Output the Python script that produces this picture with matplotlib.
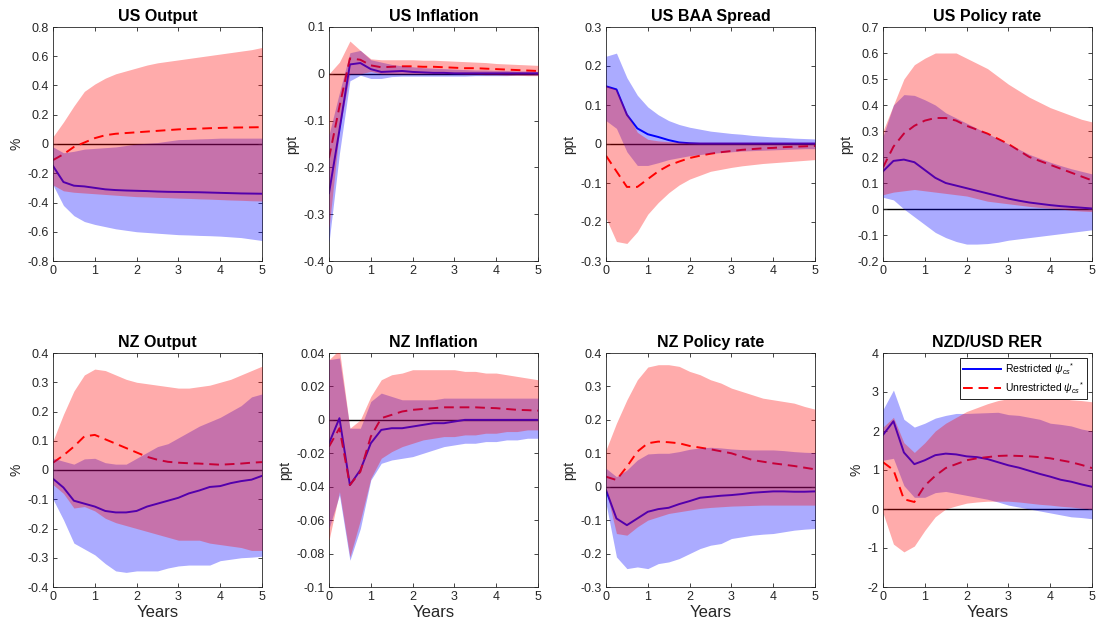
import numpy as np
import matplotlib
matplotlib.use("Agg")
import matplotlib.pyplot as plt
from matplotlib.ticker import FuncFormatter, MultipleLocator

plt.rcParams['font.family'] = ['Liberation Sans', 'DejaVu Sans']
plt.rcParams['axes.unicode_minus'] = False
plt.rcParams['mathtext.fontset'] = 'custom'
plt.rcParams['mathtext.it'] = 'Liberation Sans:italic'
plt.rcParams['mathtext.rm'] = 'Liberation Sans'

# Quarterly horizon, in years
horizon = np.linspace(0, 5, 21)

# ---- US Output ----
us_out_r = [-0.15, -0.26, -0.285, -0.29, -0.30, -0.31, -0.315, -0.318, -0.32, -0.322, -0.325,
            -0.327, -0.328, -0.329, -0.33, -0.332, -0.334, -0.336, -0.338, -0.339, -0.34]
us_out_r_hi = [-0.02, -0.06, -0.05, -0.035, -0.03, -0.025, -0.02, -0.01, 0.0, 0.005, 0.01,
               0.02, 0.03, 0.032, 0.035, 0.037, 0.04, 0.04, 0.04, 0.04, 0.04]
us_out_r_lo = [-0.28, -0.42, -0.49, -0.53, -0.55, -0.565, -0.58, -0.59, -0.60, -0.605, -0.61,
               -0.615, -0.62, -0.622, -0.625, -0.627, -0.63, -0.635, -0.64, -0.65, -0.66]
us_out_u = [-0.11, -0.07, -0.02, 0.01, 0.04, 0.06, 0.07, 0.075, 0.08, 0.085, 0.09,
            0.095, 0.10, 0.103, 0.105, 0.108, 0.11, 0.112, 0.113, 0.114, 0.115]
us_out_u_hi = [0.05, 0.15, 0.26, 0.36, 0.41, 0.45, 0.48, 0.50, 0.52, 0.54, 0.555,
               0.565, 0.575, 0.585, 0.595, 0.605, 0.615, 0.625, 0.635, 0.645, 0.66]
us_out_u_lo = [-0.28, -0.32, -0.33, -0.335, -0.34, -0.345, -0.35, -0.355, -0.36, -0.362, -0.365,
               -0.367, -0.37, -0.372, -0.375, -0.377, -0.38, -0.383, -0.385, -0.388, -0.39]

# ---- US Inflation ----
us_inf_r = [-0.255, -0.12, 0.02, 0.023, 0.01, 0.004, 0.005, 0.006, 0.004, 0.003, 0.002,
            0.002, 0.001, 0.001, 0.001, 0.001, 0.001, 0.001, 0.001, 0.001, 0.001]
us_inf_r_hi = [-0.13, -0.04, 0.045, 0.05, 0.03, 0.025, 0.02, 0.017, 0.015, 0.013, 0.012,
               0.011, 0.01, 0.009, 0.008, 0.008, 0.007, 0.007, 0.006, 0.006, 0.005]
us_inf_r_lo = [-0.36, -0.17, -0.015, -0.003, -0.01, -0.01, -0.006, -0.005, -0.005, -0.005, -0.005,
               -0.005, -0.005, -0.005, -0.004, -0.004, -0.004, -0.004, -0.003, -0.003, -0.003]
us_inf_u = [-0.18, -0.07, 0.033, 0.03, 0.018, 0.014, 0.015, 0.016, 0.016, 0.015, 0.015,
            0.014, 0.013, 0.012, 0.012, 0.011, 0.01, 0.009, 0.008, 0.007, 0.006]
us_inf_u_hi = [0.0, 0.025, 0.07, 0.05, 0.032, 0.03, 0.03, 0.03, 0.03, 0.029, 0.029,
               0.028, 0.027, 0.026, 0.025, 0.024, 0.022, 0.021, 0.02, 0.019, 0.018]
us_inf_u_lo = [-0.33, -0.12, 0.0, 0.0, 0.005, 0.0, 0.0, 0.0, 0.0, 0.0, 0.0,
               0.0, 0.0, -0.001, -0.001, -0.002, -0.002, -0.003, -0.003, -0.004, -0.004]

# ---- US BAA Spread ----
us_baa_r = [0.148, 0.14, 0.075, 0.04, 0.025, 0.018, 0.01, 0.004, 0.002, 0.001, 0.001,
            0.001, 0.001, 0.001, 0.001, 0.001, 0.001, 0.001, 0.001, 0.001, 0.001]
us_baa_r_hi = [0.225, 0.233, 0.17, 0.125, 0.095, 0.075, 0.06, 0.05, 0.043, 0.038, 0.033,
               0.03, 0.027, 0.025, 0.022, 0.02, 0.018, 0.017, 0.015, 0.014, 0.013]
us_baa_r_lo = [0.06, 0.04, -0.02, -0.055, -0.055, -0.048, -0.04, -0.035, -0.03, -0.027, -0.024,
               -0.022, -0.02, -0.018, -0.017, -0.016, -0.015, -0.014, -0.013, -0.012, -0.012]
us_baa_u = [-0.03, -0.07, -0.11, -0.11, -0.09, -0.07, -0.055, -0.045, -0.036, -0.03, -0.025,
            -0.021, -0.018, -0.015, -0.013, -0.011, -0.01, -0.008, -0.007, -0.006, -0.005]
us_baa_u_hi = [0.15, 0.14, 0.08, 0.03, 0.012, 0.008, 0.006, 0.005, 0.005, 0.005, 0.005,
               0.005, 0.005, 0.005, 0.005, 0.005, 0.005, 0.005, 0.005, 0.005, 0.005]
us_baa_u_lo = [-0.19, -0.25, -0.255, -0.225, -0.18, -0.15, -0.125, -0.105, -0.09, -0.08, -0.07,
               -0.065, -0.06, -0.056, -0.053, -0.05, -0.048, -0.046, -0.044, -0.042, -0.04]

# ---- US Policy rate ----
us_pol_r = [0.145, 0.185, 0.19, 0.18, 0.15, 0.12, 0.10, 0.09, 0.08, 0.07, 0.06,
            0.05, 0.04, 0.032, 0.025, 0.02, 0.015, 0.011, 0.008, 0.005, 0.002]
us_pol_r_hi = [0.28, 0.40, 0.44, 0.437, 0.42, 0.40, 0.37, 0.35, 0.33, 0.31, 0.29,
               0.27, 0.25, 0.23, 0.21, 0.195, 0.18, 0.167, 0.155, 0.145, 0.135]
us_pol_r_lo = [0.045, 0.035, 0.0, -0.03, -0.06, -0.09, -0.11, -0.125, -0.135, -0.135, -0.133,
               -0.128, -0.12, -0.115, -0.11, -0.105, -0.1, -0.095, -0.09, -0.085, -0.08]
us_pol_u = [0.16, 0.24, 0.29, 0.32, 0.34, 0.35, 0.35, 0.34, 0.32, 0.305, 0.29,
            0.27, 0.25, 0.225, 0.2, 0.185, 0.17, 0.155, 0.14, 0.125, 0.11]
us_pol_u_hi = [0.30, 0.40, 0.50, 0.555, 0.58, 0.60, 0.60, 0.60, 0.58, 0.56, 0.54,
               0.51, 0.48, 0.455, 0.43, 0.41, 0.39, 0.375, 0.36, 0.345, 0.335]
us_pol_u_lo = [0.055, 0.065, 0.07, 0.075, 0.07, 0.065, 0.06, 0.055, 0.05, 0.04, 0.03,
               0.025, 0.02, 0.015, 0.01, 0.006, 0.003, 0.0, -0.005, -0.008, -0.01]

# ---- NZ Output ----
nz_out_r = [-0.03, -0.06, -0.105, -0.115, -0.125, -0.14, -0.145, -0.145, -0.14, -0.125, -0.115,
            -0.105, -0.095, -0.08, -0.07, -0.058, -0.055, -0.045, -0.038, -0.033, -0.02]
nz_out_r_hi = [0.04, 0.03, 0.02, 0.038, 0.04, 0.025, 0.02, 0.02, 0.04, 0.06, 0.08,
               0.09, 0.11, 0.13, 0.15, 0.165, 0.18, 0.2, 0.22, 0.25, 0.26]
nz_out_r_lo = [-0.1, -0.17, -0.25, -0.27, -0.29, -0.32, -0.345, -0.35, -0.345, -0.345, -0.345,
               -0.335, -0.328, -0.325, -0.325, -0.325, -0.31, -0.305, -0.3, -0.298, -0.295]
nz_out_u = [0.025, 0.05, 0.08, 0.115, 0.12, 0.105, 0.09, 0.075, 0.06, 0.045, 0.035,
            0.028, 0.025, 0.023, 0.022, 0.02, 0.018, 0.02, 0.022, 0.025, 0.027]
nz_out_u_hi = [0.1, 0.19, 0.27, 0.325, 0.345, 0.34, 0.325, 0.31, 0.3, 0.295, 0.29,
               0.285, 0.28, 0.28, 0.285, 0.29, 0.3, 0.31, 0.325, 0.34, 0.355]
nz_out_u_lo = [-0.05, -0.08, -0.13, -0.125, -0.14, -0.165, -0.18, -0.19, -0.2, -0.21, -0.22,
               -0.23, -0.24, -0.24, -0.24, -0.25, -0.255, -0.26, -0.265, -0.275, -0.275]

# ---- NZ Inflation ----
nz_inf_r = [-0.014, 0.001, -0.039, -0.03, -0.014, -0.006, -0.005, -0.005, -0.004, -0.003, -0.002,
            -0.002, -0.001, 0.0, 0.0, 0.0, 0.0, 0.0, 0.0, 0.0, 0.0]
nz_inf_r_hi = [0.036, 0.037, -0.005, -0.005, 0.011, 0.016, 0.014, 0.012, 0.012, 0.012, 0.012,
               0.013, 0.013, 0.013, 0.013, 0.013, 0.013, 0.013, 0.013, 0.013, 0.013]
nz_inf_r_lo = [-0.065, -0.045, -0.084, -0.065, -0.036, -0.026, -0.024, -0.023, -0.022, -0.02, -0.018,
               -0.016, -0.015, -0.014, -0.014, -0.013, -0.013, -0.012, -0.012, -0.011, -0.011]
nz_inf_u = [-0.016, -0.005, -0.039, -0.031, -0.01, 0.001, 0.003, 0.005, 0.006, 0.0065, 0.007,
            0.0075, 0.0075, 0.0075, 0.0075, 0.0072, 0.007, 0.0065, 0.006, 0.0058, 0.0055]
nz_inf_u_hi = [0.036, 0.042, -0.005, 0.0, 0.014, 0.024, 0.027, 0.028, 0.03, 0.03, 0.03,
               0.03, 0.03, 0.029, 0.029, 0.028, 0.028, 0.027, 0.026, 0.025, 0.024]
nz_inf_u_lo = [-0.072, -0.043, -0.082, -0.06, -0.035, -0.023, -0.019, -0.016, -0.014, -0.012, -0.011,
               -0.01, -0.01, -0.009, -0.009, -0.008, -0.008, -0.007, -0.007, -0.006, -0.006]

# ---- NZ Policy rate ----
nz_pol_r = [-0.01, -0.095, -0.115, -0.095, -0.075, -0.067, -0.063, -0.052, -0.043, -0.033, -0.03,
            -0.027, -0.025, -0.022, -0.018, -0.016, -0.014, -0.014, -0.015, -0.015, -0.014]
nz_pol_r_hi = [0.055, 0.03, 0.05, 0.08, 0.098, 0.1, 0.1, 0.105, 0.112, 0.116, 0.118,
               0.116, 0.113, 0.111, 0.11, 0.11, 0.11, 0.108, 0.105, 0.103, 0.102]
nz_pol_r_lo = [-0.05, -0.21, -0.245, -0.24, -0.245, -0.23, -0.225, -0.215, -0.2, -0.185, -0.175,
               -0.17, -0.155, -0.15, -0.145, -0.142, -0.14, -0.135, -0.13, -0.127, -0.125]
nz_pol_u = [0.03, 0.02, 0.06, 0.105, 0.13, 0.135, 0.133, 0.13, 0.122, 0.117, 0.112,
            0.106, 0.1, 0.09, 0.08, 0.075, 0.07, 0.066, 0.062, 0.057, 0.052]
nz_pol_u_hi = [0.11, 0.19, 0.26, 0.32, 0.358, 0.365, 0.365, 0.36, 0.345, 0.335, 0.32,
               0.31, 0.295, 0.285, 0.275, 0.265, 0.26, 0.255, 0.25, 0.24, 0.232]
nz_pol_u_lo = [-0.01, -0.14, -0.145, -0.12, -0.1, -0.09, -0.08, -0.075, -0.07, -0.065, -0.062,
               -0.06, -0.058, -0.057, -0.056, -0.055, -0.055, -0.055, -0.055, -0.055, -0.055]

# ---- NZD/USD RER ----
rer_r = [1.9, 2.25, 1.45, 1.15, 1.25, 1.38, 1.42, 1.4, 1.35, 1.33, 1.28,
         1.2, 1.12, 1.06, 0.98, 0.9, 0.83, 0.75, 0.7, 0.63, 0.57]
rer_r_hi = [2.55, 3.05, 2.3, 2.1, 2.2, 2.33, 2.4, 2.45, 2.45, 2.46, 2.47,
            2.48, 2.42, 2.4, 2.35, 2.3, 2.2, 2.17, 2.13, 2.05, 2.0]
rer_r_lo = [1.25, 1.3, 0.6, 0.3, 0.3, 0.42, 0.45, 0.4, 0.35, 0.3, 0.25,
            0.18, 0.1, 0.05, 0.0, -0.05, -0.1, -0.15, -0.2, -0.22, -0.25]
rer_u = [1.2, 1.0, 0.25, 0.18, 0.6, 0.85, 1.05, 1.15, 1.25, 1.3, 1.33,
         1.36, 1.37, 1.36, 1.35, 1.33, 1.3, 1.25, 1.2, 1.13, 1.05]
rer_u_hi = [2.1, 2.35, 1.7, 1.45, 1.7, 2.0, 2.2, 2.35, 2.5, 2.6, 2.7,
            2.78, 2.83, 2.85, 2.85, 2.86, 2.87, 2.84, 2.8, 2.78, 2.75]
rer_u_lo = [-0.1, -0.9, -1.1, -0.95, -0.55, -0.2, 0.0, 0.08, 0.15, 0.18, 0.2,
            0.2, 0.2, 0.18, 0.15, 0.12, 0.1, 0.07, 0.05, 0.02, 0.0]

titles = ['US Output', 'US Inflation', 'US BAA Spread', 'US Policy rate',
          'NZ Output', 'NZ Inflation', 'NZ Policy rate', 'NZD/USD RER']
units = ['%', 'ppt', 'ppt', 'ppt', '%', 'ppt', 'ppt', '%']
y_limits = [(-0.8, 0.8), (-0.4, 0.1), (-0.3, 0.3), (-0.2, 0.7),
            (-0.4, 0.4), (-0.1, 0.04), (-0.3, 0.4), (-2, 4)]
y_steps = [0.2, 0.1, 0.1, 0.1, 0.1, 0.02, 0.1, 1]

panels = [
    (us_out_r, us_out_r_lo, us_out_r_hi, us_out_u, us_out_u_lo, us_out_u_hi),
    (us_inf_r, us_inf_r_lo, us_inf_r_hi, us_inf_u, us_inf_u_lo, us_inf_u_hi),
    (us_baa_r, us_baa_r_lo, us_baa_r_hi, us_baa_u, us_baa_u_lo, us_baa_u_hi),
    (us_pol_r, us_pol_r_lo, us_pol_r_hi, us_pol_u, us_pol_u_lo, us_pol_u_hi),
    (nz_out_r, nz_out_r_lo, nz_out_r_hi, nz_out_u, nz_out_u_lo, nz_out_u_hi),
    (nz_inf_r, nz_inf_r_lo, nz_inf_r_hi, nz_inf_u, nz_inf_u_lo, nz_inf_u_hi),
    (nz_pol_r, nz_pol_r_lo, nz_pol_r_hi, nz_pol_u, nz_pol_u_lo, nz_pol_u_hi),
    (rer_r, rer_r_lo, rer_r_hi, rer_u, rer_u_lo, rer_u_hi),
]

W, H = 1104, 631
fig = plt.figure(figsize=(W / 100, H / 100), dpi=100)

lefts = [53, 329, 606, 883]
tops = [27, 353]
ax_w, ax_h = 209, 234
tick_color = '#262626'

fmt = FuncFormatter(lambda v, _: f'{v:g}' if abs(v) > 1e-12 else '0')

for i, (title, unit, ylim, step, data) in enumerate(zip(titles, units, y_limits, y_steps, panels)):
    row, col = divmod(i, 4)
    left = lefts[col] / W
    bottom = 1 - (tops[row] + ax_h) / H
    ax = fig.add_axes([left, bottom, ax_w / W, ax_h / H])
    r, r_lo, r_hi, u, u_lo, u_hi = data

    ax.axhline(0, color='black', lw=1.0, zorder=1)
    l1, = ax.plot(horizon, r, color='#0000ff', lw=1.4, zorder=2,
                  label=r'Restricted $\psi_{cs}$$^{*}$')
    l2, = ax.plot(horizon, u, color='#ff0000', lw=1.4, ls=(0, (5, 3)), zorder=2,
                  label=r'Unrestricted $\psi_{cs}$$^{*}$')
    ax.fill_between(horizon, r_lo, r_hi, color='#0000ff', alpha=0.33, lw=0, zorder=3)
    ax.fill_between(horizon, u_lo, u_hi, color='#ff0000', alpha=0.33, lw=0, zorder=4)

    ax.set_xlim(0, 5)
    ax.set_ylim(*ylim)
    ax.xaxis.set_major_locator(MultipleLocator(1))
    ax.yaxis.set_major_locator(MultipleLocator(step))
    ax.yaxis.set_major_formatter(fmt)
    ax.xaxis.set_major_formatter(fmt)
    ax.tick_params(direction='in', length=3, width=0.6, top=True, right=True,
                   labelsize=9, colors=tick_color, labelcolor=tick_color, pad=3)
    for s in ax.spines.values():
        s.set_color(tick_color)
        s.set_linewidth(0.6)
    ax.set_title(title, fontsize=11.5, fontweight='bold', pad=4)
    ax.set_ylabel(unit, fontsize=10, color=tick_color, labelpad=3)
    if row == 1:
        ax.set_xlabel('Years', fontsize=12, color=tick_color, labelpad=1)
    if i == 7:
        leg = ax.legend(handles=[l1, l2], loc='upper right', fontsize=7.5,
                        handlelength=3.6, borderaxespad=0.5, fancybox=False,
                        framealpha=1, edgecolor='black', borderpad=0.3,
                        labelspacing=0.3, handletextpad=0.4)
        leg.get_frame().set_linewidth(0.6)
        leg.set_zorder(10)

fig.savefig('out.png', dpi=100)
